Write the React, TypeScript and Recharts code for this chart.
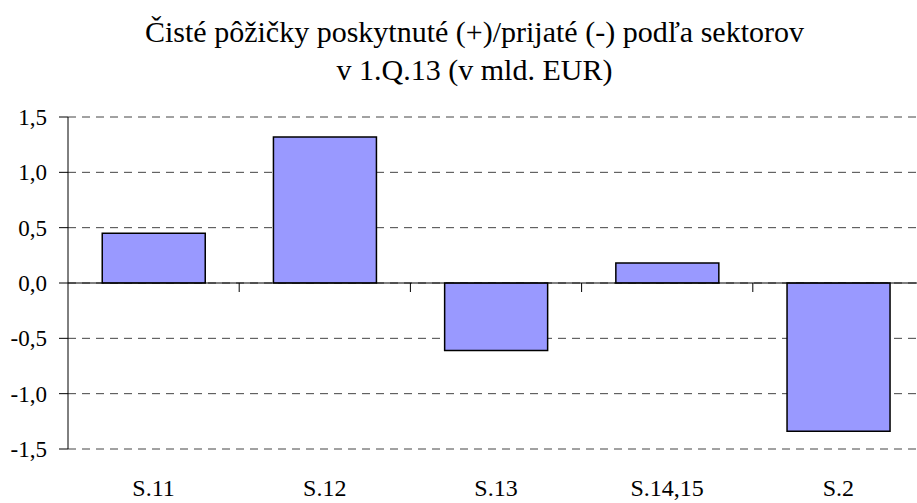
import React from 'react';
import { BarChart, Bar, XAxis, YAxis, CartesianGrid, ReferenceLine } from 'recharts';

const sectors = ['S.11', 'S.12', 'S.13', 'S.14,15', 'S.2'];
const netLending = [0.45, 1.32, -0.61, 0.18, -1.34];
const yTicks = [-1.5, -1.0, -0.5, 0, 0.5, 1.0, 1.5];
const titleLines = ['Čisté pôžičky poskytnuté (+)/prijaté (-) podľa sektorov', 'v 1.Q.13 (v mld. EUR)'];

const data = sectors.map((s, i) => ({ sector: s, value: netLending[i] }));

const FONT = 'Liberation Serif';

const fmt = (v: number) => v.toFixed(1).replace('.', ',');

// zero line with Excel-like tick marks between categories
const ZeroLine = (props: any) => {
  const { x1, x2, y1 } = props;
  const step = (x2 - x1) / sectors.length;
  const marks = [];
  for (let k = 1; k < sectors.length; k++) {
    const x = x1 + step * k;
    marks.push(<line key={k} x1={x} x2={x} y1={y1} y2={y1 + 9} stroke="#000" strokeWidth={1} />);
  }
  return (
    <g>
      <line x1={x1} x2={x2} y1={y1} y2={y1} stroke="#000" strokeWidth={1} />
      {marks}
    </g>
  );
};

const XTick = (props: any) => {
  const { x, y, payload } = props;
  return (
    <text x={x} y={y} textAnchor="middle" style={{ fontFamily: FONT }} fontSize={24} fill="#000">
      {payload.value}
    </text>
  );
};

export default function App() {
  return (
    <div style={{ position: 'absolute', left: 0, top: 0, width: 917, height: 503, overflow: 'hidden', background: '#fff', fontFamily: FONT }}>
      <BarChart
        width={930}
        height={503}
        data={data}
        margin={{ top: 117, right: 6, bottom: 0, left: 0 }}
        barCategoryGap="20%"
        style={{ position: 'absolute', left: 0, top: 0, fontFamily: FONT }}
      >
        <CartesianGrid vertical={false} stroke="#444" strokeDasharray="8 6" />
        <XAxis
          dataKey="sector"
          axisLine={false}
          tickLine={false}
          height={54}
          tickSize={0}
          tickMargin={47}
          tick={<XTick />}
          interval={0}
        />
        <YAxis
          domain={[-1.5, 1.5]}
          ticks={yTicks}
          tickFormatter={fmt}
          width={68}
          axisLine={{ stroke: '#000' }}
          tickLine={{ stroke: '#000' }}
          tickSize={9}
          tickMargin={12}
          tick={{ fill: '#000', fontSize: 23, style: { fontFamily: FONT } }}
          interval={0}
        />
        <ReferenceLine y={0} shape={<ZeroLine />} />
        <Bar dataKey="value" fill="#9999FF" stroke="#000" strokeWidth={1.5} isAnimationActive={false} />
      </BarChart>
      <div
        style={{
          position: 'absolute',
          left: 0,
          width: 949,
          top: 13,
          textAlign: 'center',
          fontFamily: FONT,
          fontSize: 30,
          lineHeight: '38px',
          color: '#000',
        }}
      >
        {titleLines.map((t) => (
          <div key={t}>{t}</div>
        ))}
      </div>
    </div>
  );
}
